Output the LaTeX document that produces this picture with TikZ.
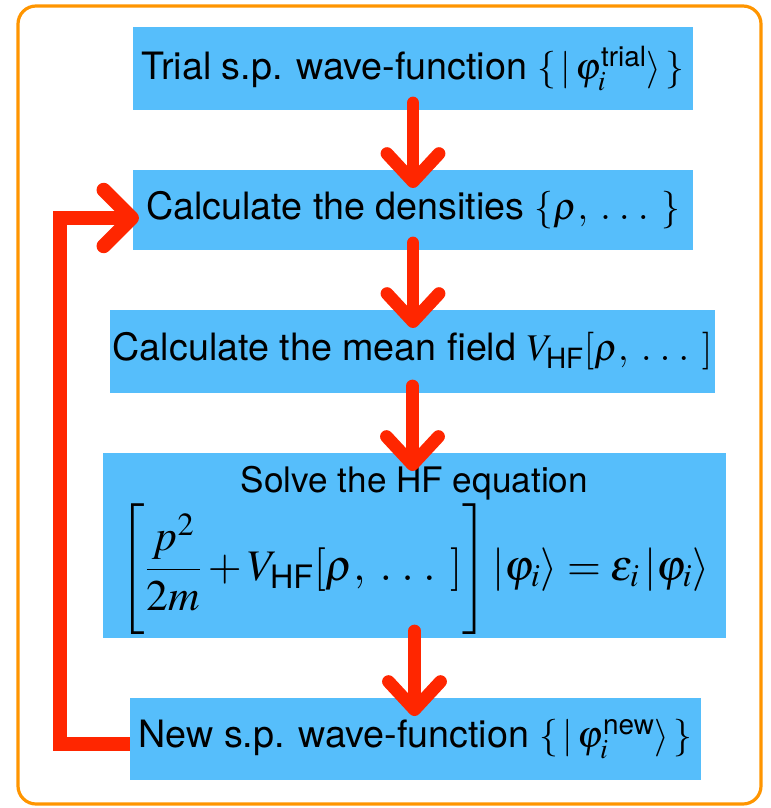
\documentclass[tikz,border=0pt]{standalone}
\usepackage{amsmath}
\usepackage{mathptmx}
\usepackage[no-math]{fontspec}
\setmainfont{TeX Gyre Heros}
\usepackage{tikz}
\usetikzlibrary{arrows.meta,positioning,calc}
\definecolor{boxBlue}{HTML}{56BEFB}
\definecolor{flowRed}{HTML}{FF2600}
\definecolor{frameOrange}{HTML}{FF9500}
\newcommand{\spdots}{\;.\;.\;.\;\,}
\tikzset{
  calcbox/.style={fill=boxBlue, inner sep=0pt, outer sep=0pt, align=center,
    font=\fontsize{26.8}{32}\selectfont, minimum width=#1},
  flowarr/.style={-{Straight Barb[round,length=0.7cm,width=1.3cm]}, line width=0.32cm,
    flowRed, line cap=round},
  backarr/.style={-{Straight Barb[round,length=0.7cm,width=1.4cm]}, line width=0.36cm,
    flowRed, line join=miter}
}

\begin{document}
\begin{tikzpicture}[x=0.025cm,y=-0.025cm]
  % page = 770 x 808 px, coordinates in px
  \useasboundingbox (0,0) rectangle (770,808);
  \draw[frameOrange, line width=0.08cm, rounded corners=0.45cm] (18,6) rectangle (761,804);

  \node[calcbox=14cm, minimum height=2.075cm] (trial) at (413,68.5)
    {Trial s.p. wave-function $\{\,|\,\varphi_i^{\text{trial}}\rangle\,\}$};
  \node[calcbox=14cm, minimum height=2cm] (dens) at (413,210)
    {Calculate the densities $\{\rho,\spdots\}$};
  \node[calcbox=15.125cm, minimum height=2.075cm] (mfield) at (412.5,351.5)
    {Calculate the mean field $V_{\text{HF}}[\rho,\spdots]$};
  \node[calcbox=15.575cm, minimum height=4.625cm] (solve) at (414.5,545.5)
    {\fontsize{25}{30}\selectfont\rule{0pt}{0.9cm}Solve the HF equation\\[0.07cm]
     {\fontsize{31}{36}\selectfont
     $\displaystyle\left[\frac{p^2}{2m}+V_{\text{HF}}[\rho,\spdots]\right]|\varphi_i\rangle
      =\varepsilon_i\,|\varphi_i\rangle$}};
  \node[calcbox=14.275cm, minimum height=2.05cm] (new) at (415.5,739)
    {New s.p. wave-function $\{\,|\,\varphi_i^{\text{new}}\rangle\,\}$};

  % downward steps
  \foreach \a/\b in {trial/dens, dens/mfield, mfield/solve, solve/new}
    \draw[flowarr, shorten <=-0.175cm, shorten >=-0.45cm]
      (\a.south) -- (\a.south |- \b.north);

  % iteration loop
  \draw[backarr, shorten >=-0.15cm]
    ([yshift=-0.12cm]new.west) -- ++(-70,0) |- ([yshift=-0.2cm]dens.west);
\end{tikzpicture}
\end{document}
